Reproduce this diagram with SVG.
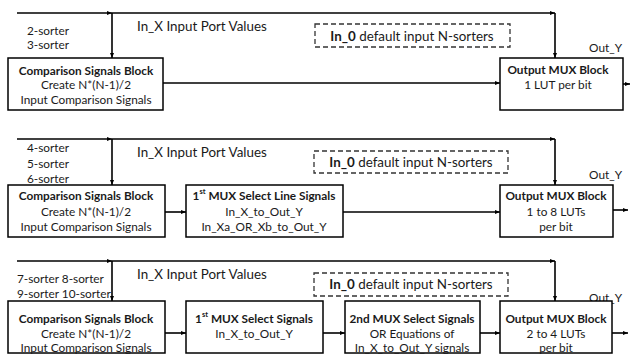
<svg xmlns="http://www.w3.org/2000/svg" width="630" height="359" viewBox="0 0 630 359">
<defs>
<marker id="ah" viewBox="0 0 10 10" refX="10" refY="5" markerWidth="5" markerHeight="5" orient="auto" markerUnits="userSpaceOnUse">
<path d="M0,1 L10,5 L0,9 Z" fill="#000"/>
</marker>
<style>
.box{fill:#fff;stroke:#000;stroke-width:1.5}
.dash{fill:none;stroke:#333;stroke-width:1.3;stroke-dasharray:5,3}
.c{fill:none;stroke:#000;stroke-width:1.6;marker-end:url(#ah)}
text{font-family:Lato,"Open Sans",sans-serif;font-size:11.8px;fill:#1a1a1a;dominant-baseline:central}
.m{text-anchor:middle}
.e{text-anchor:end}
.b{font-weight:bold}
.big{font-size:13.4px}
</style>
</defs>
<rect width="630" height="359" fill="#fff"/>

<g id="connectors">
<!-- row 1 -->
<path class="c" d="M17,13 H112"/>
<path class="c" d="M112,13 H555"/>
<path class="c" d="M555,13 V58"/>
<path class="c" d="M112,13 V58"/>
<path class="c" d="M163,83 H500"/>
<path class="c" d="M623,84 H630"/>
<!-- row 2 -->
<path class="c" d="M17,139 H112"/>
<path class="c" d="M112,139 H555"/>
<path class="c" d="M555,139 V185"/>
<path class="c" d="M112,139 V185"/>
<path class="c" d="M165,212 H186"/>
<path class="c" d="M343,212 H500"/>
<path class="c" d="M613,210 H628"/>
<!-- row 3 -->
<path class="c" d="M17,261 H112"/>
<path class="c" d="M112,261 H555"/>
<path class="c" d="M555,261 V301"/>
<path class="c" d="M112,261 V301"/>
<path class="c" d="M165,333 H186"/>
<path class="c" d="M323,333 H345"/>
<path class="c" d="M480,333 H500"/>
<path class="c" d="M612,333 H628"/>
</g>

<g id="labels">
<text x="27" y="30">2-sorter</text>
<text x="27" y="44">3-sorter</text>
<text x="137" y="26" class="big">In_X Input Port Values</text>
<text x="622" y="47" class="e">Out_Y</text>

<text x="27" y="147">4-sorter</text>
<text x="27" y="163">5-sorter</text>
<text x="27" y="178">6-sorter</text>
<text x="137" y="152" class="big">In_X Input Port Values</text>
<text x="622" y="174" class="e">Out_Y</text>

<text x="17" y="278">7-sorter 8-sorter</text>
<text x="17" y="293">9-sorter 10-sorter</text>
<text x="137" y="274" class="big">In_X Input Port Values</text>
<text x="622" y="297" class="e">Out_Y</text>
</g>

<g id="default1">
<rect class="dash" x="315" y="24" width="195" height="23"/>
<text x="412" y="36" class="m big"><tspan class="b">In_0</tspan> default input N-sorters</text>
</g>
<g id="default2">
<rect class="dash" x="314" y="151" width="194" height="22"/>
<text x="411" y="162" class="m big"><tspan class="b">In_0</tspan> default input N-sorters</text>
</g>
<g id="default3">
<rect class="dash" x="314" y="273" width="194" height="23"/>
<text x="411" y="284" class="m big"><tspan class="b">In_0</tspan> default input N-sorters</text>
</g>

<g id="cmp1">
<rect class="box" x="8" y="58" width="155" height="52"/>
<text x="86" y="70" class="m b">Comparison Signals Block</text>
<text x="86" y="84" class="m">Create N*(N-1)/2</text>
<text x="86" y="99" class="m">Input Comparison Signals</text>
</g>
<g id="out1">
<rect class="box" x="500" y="58" width="123" height="52"/>
<text x="558" y="69" class="m b">Output MUX Block</text>
<text x="558" y="84" class="m">1 LUT per bit</text>
</g>

<g id="cmp2">
<rect class="box" x="8" y="185" width="157" height="52"/>
<text x="86" y="195" class="m b">Comparison Signals Block</text>
<text x="86" y="211" class="m">Create N*(N-1)/2</text>
<text x="86" y="226" class="m">Input Comparison Signals</text>
</g>
<g id="mux1_2">
<rect class="box" x="186" y="185" width="157" height="52"/>
<text x="264" y="195" class="m b">1<tspan font-size="7.5" dy="-4">st</tspan><tspan dy="4"> MUX Select Line Signals</tspan></text>
<text x="264" y="211" class="m">In_X_to_Out_Y</text>
<text x="264" y="226" class="m">In_Xa_OR_Xb_to_Out_Y</text>
</g>
<g id="out2">
<rect class="box" x="500" y="185" width="113" height="52"/>
<text x="556" y="195" class="m b">Output MUX Block</text>
<text x="556" y="211" class="m">1 to 8 LUTs</text>
<text x="556" y="226" class="m">per bit</text>
</g>

<g id="cmp3">
<rect class="box" x="8" y="301" width="157" height="52"/>
<text x="86" y="318" class="m b">Comparison Signals Block</text>
<text x="86" y="333" class="m">Create N*(N-1)/2</text>
<text x="86" y="347" class="m">Input Comparison Signals</text>
</g>
<g id="mux1_3">
<rect class="box" x="186" y="301" width="137" height="52"/>
<text x="254" y="318" class="m b">1<tspan font-size="7.5" dy="-4">st</tspan><tspan dy="4"> MUX Select Signals</tspan></text>
<text x="254" y="333" class="m">In_X_to_Out_Y</text>
</g>
<g id="mux2_3">
<rect class="box" x="345" y="301" width="135" height="52"/>
<text x="412" y="318" class="m b">2nd MUX Select Signals</text>
<text x="412" y="333" class="m">OR Equations of</text>
<text x="412" y="347" class="m">In_X_to_Out_Y signals</text>
</g>
<g id="out3">
<rect class="box" x="500" y="301" width="112" height="52"/>
<text x="556" y="318" class="m b">Output MUX Block</text>
<text x="556" y="333" class="m">2 to 4 LUTs</text>
<text x="556" y="347" class="m">per bit</text>
</g>
</svg>
